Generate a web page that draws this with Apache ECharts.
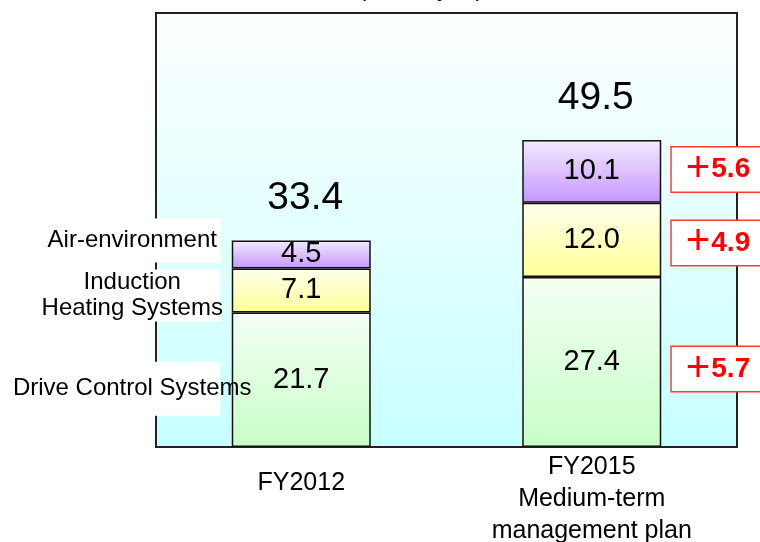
<!DOCTYPE html>
<html>
<head>
<meta charset="utf-8">
<script src="https://cdn.jsdelivr.net/npm/echarts@6/dist/echarts.min.js"></script>
<style>
  html, body { margin: 0; padding: 0; background: #fff; }
  #chart { width: 760px; height: 542px; }
</style>
</head>
<body>
<div id="chart"></div>
<script>
// data (billion yen)
const categories = ['FY2012', 'FY2015\nMedium-term\nmanagement plan'];
const segmentNames = ['Drive Control Systems', 'Induction\nHeating Systems', 'Air-environment'];
const driveControl = [21.7, 27.4];
const inductionHeating = [7.1, 12.0];
const airEnvironment = [4.5, 10.1];
const totals = [33.4, 49.5];
const increases = [5.7, 4.9, 5.6]; // drive, induction, air (FY2015 vs FY2012)

const FONT = '"Liberation Sans", Arial, "Noto Sans CJK JP", sans-serif';
const grad = (top, bottom) =>
  new echarts.graphic.LinearGradient(0, 0, 0, 1, [
    { offset: 0, color: top },
    { offset: 1, color: bottom },
  ]);

const stacks = [driveControl, inductionHeating, airEnvironment];
// middle of each segment, used to anchor side labels / increase boxes
function segmentMid(catIdx, segIdx) {
  let base = 0;
  for (let i = 0; i < segIdx; i++) base += stacks[i][catIdx];
  return base + stacks[segIdx][catIdx] / 2;
}

const segColors = [
  grad('#f4fff4', '#c8ffc8'),
  grad('#ffffec', '#ffff99'),
  grad('#f2eaff', '#c896ff'),
];

const barSeries = stacks.map((vals, i) => ({
  name: segmentNames[i],
  type: 'bar',
  stack: 'total',
  barWidth: 139,
  data: vals,
  itemStyle: { color: segColors[i], borderColor: '#111', borderWidth: 1.5 },
  label: {
    show: true,
    position: 'inside',
    formatter: (p) => p.value.toFixed(1),
    fontFamily: FONT,
    fontSize: 29,
    color: '#000',
  },
  z: 3,
}));

const sideLabelStyle = [
  { offset: [-169, 9], padding: [14, 0] },
  { offset: [-169, 5], padding: [0, 0] },
  { offset: [-169, -14], padding: [9, 0] },
];

// scatter helpers only carry labels
const labelOnly = { type: 'scatter', symbolSize: 0, silent: true, z: 5, itemStyle: { opacity: 1 } };

const sideLabels = {
  ...labelOnly,
  data: segmentNames.map((name, i) => ({
    value: [0, segmentMid(0, i)],
    name,
    label: {
      show: true,
      position: 'inside',
      formatter: name,
      offset: sideLabelStyle[i].offset,
      padding: sideLabelStyle[i].padding,
      width: 176,
      overflow: 'none',
      align: 'center',
      verticalAlign: 'middle',
      backgroundColor: '#fff',
      fontFamily: FONT,
      fontSize: 24,
      lineHeight: 26,
      color: '#000',
      opacity: 1,
    },
  })),
};

const increaseOffsets = [7, 3, -2];
const increaseLabels = {
  ...labelOnly,
  data: increases.map((v, i) => ({
    value: [1, segmentMid(1, i)],
    label: {
      show: true,
      position: 'inside',
      formatter: '{p|+}{n|' + v.toFixed(1) + '}',
      offset: [80, increaseOffsets[i]],
      align: 'left',
      verticalAlign: 'middle',
      width: 80,
      padding: [9, 20, 9, 14],
      backgroundColor: '#fff',
      borderColor: '#ff3a3a',
      borderWidth: 1.5,
      rich: {
        p: { fontFamily: FONT, fontSize: 42, lineHeight: 26, color: '#ff0000', padding: [0, 1, 0, 0] },
        n: { fontFamily: FONT, fontWeight: 'bold', fontSize: 28, lineHeight: 26, color: '#ff0000' },
      },
      opacity: 1,
    },
  })),
};

const totalLabels = {
  ...labelOnly,
  data: totals.map((t, i) => [i, t]),
  label: {
    show: true,
    position: 'top',
    distance: 22,
    offset: [4, 0],
    formatter: (p) => totals[p.dataIndex].toFixed(1),
    fontFamily: FONT,
    fontSize: 39,
    color: '#000',
    opacity: 1,
  },
};

const chart = echarts.init(document.getElementById('chart'), null, { renderer: 'canvas' });
chart.setOption({
  animation: false,
  backgroundColor: '#fff',
  graphic: [
    {
      type: 'text',
      x: 421,
      y: -22.5,
      style: { text: '(Billion yen)', font: '24px ' + FONT, fill: '#000', align: 'center' },
    },
  ],
  grid: {
    left: 156,
    right: 23,
    top: 13,
    bottom: 95,
    containLabel: false,
    outerBoundsMode: 'none',
    show: true,
    borderColor: '#222',
    borderWidth: 2,
    backgroundColor: grad('#fdffff', '#c8ffff'),
  },
  xAxis: {
    type: 'category',
    data: categories,
    axisLine: { show: false },
    axisTick: { show: false },
    axisLabel: {
      margin: 4,
      fontFamily: FONT,
      fontSize: 25,
      color: '#000',
      lineHeight: 32,
      formatter: (v, idx) => (idx === 0 ? '{single|' + v + '}' : v),
      rich: { single: { fontFamily: FONT, fontSize: 25, lineHeight: 64, color: '#000' } },
    },
  },
  yAxis: {
    type: 'value',
    min: 0,
    max: 70,
    show: false,
    splitLine: { show: false },
  },
  series: [...barSeries, sideLabels, increaseLabels, totalLabels],
});
</script>
</body>
</html>
